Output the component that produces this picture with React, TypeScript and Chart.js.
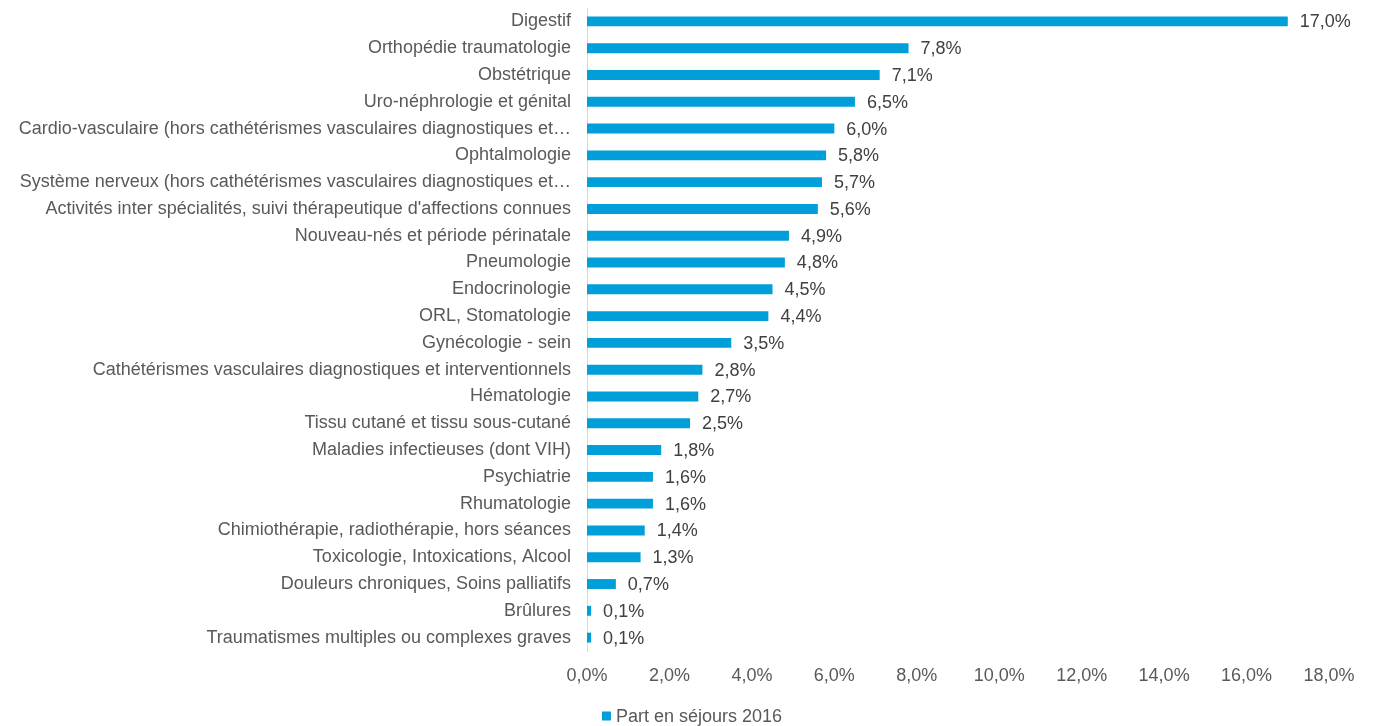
import React, { useEffect, useRef } from "react";
import { Chart, registerables } from "chart.js";

Chart.register(...registerables);

const categories = [
  "Digestif",
  "Orthopédie traumatologie",
  "Obstétrique",
  "Uro-néphrologie et génital",
  "Cardio-vasculaire (hors cathétérismes vasculaires diagnostiques et…",
  "Ophtalmologie",
  "Système nerveux (hors cathétérismes vasculaires diagnostiques et…",
  "Activités inter spécialités, suivi thérapeutique d'affections connues",
  "Nouveau-nés et période périnatale",
  "Pneumologie",
  "Endocrinologie",
  "ORL, Stomatologie",
  "Gynécologie - sein",
  "Cathétérismes vasculaires diagnostiques et interventionnels",
  "Hématologie",
  "Tissu cutané et tissu sous-cutané",
  "Maladies infectieuses (dont VIH)",
  "Psychiatrie",
  "Rhumatologie",
  "Chimiothérapie, radiothérapie, hors séances",
  "Toxicologie, Intoxications, Alcool",
  "Douleurs chroniques, Soins palliatifs",
  "Brûlures",
  "Traumatismes multiples ou complexes graves",
];

const values = [
  17.0, 7.8, 7.1, 6.5, 6.0, 5.8, 5.7, 5.6, 4.9, 4.8, 4.5, 4.4, 3.5, 2.8, 2.7,
  2.5, 1.8, 1.6, 1.6, 1.4, 1.3, 0.7, 0.1, 0.1,
];

const seriesLabel = "Part en séjours 2016";
const xMin = 0;
const xMax = 18;
const xStep = 2;

const FONT = "'Liberation Sans', Arial, sans-serif";
const BAR_COLOR = "#009FDA";

const fmt = (v: number) => v.toFixed(1).replace(".", ",") + "%";

const dataLabels = {
  id: "dataLabels",
  afterDatasetsDraw(chart: any) {
    const ctx = chart.ctx;
    const meta = chart.getDatasetMeta(0);
    ctx.save();
    ctx.font = `18px ${FONT}`;
    ctx.fillStyle = "#404040";
    ctx.textAlign = "left";
    ctx.textBaseline = "middle";
    meta.data.forEach((bar: any, i: number) => {
      ctx.fillText(fmt(values[i]), bar.x + 12, bar.y + 1);
    });
    ctx.restore();
  },
};

const bottomLegend = {
  id: "bottomLegend",
  afterDraw(chart: any) {
    const ctx = chart.ctx;
    const ds = chart.data.datasets[0];
    ctx.save();
    ctx.font = `18px ${FONT}`;
    const tw = ctx.measureText(ds.label).width;
    const box = 9;
    const gap = 5;
    const total = box + gap + tw;
    const cx = 692;
    const cy = 716;
    const x0 = cx - total / 2;
    ctx.fillStyle = ds.backgroundColor;
    ctx.fillRect(x0, cy - box / 2, box, box);
    ctx.fillStyle = "#595959";
    ctx.textAlign = "left";
    ctx.textBaseline = "middle";
    ctx.fillText(ds.label, x0 + box + gap, cy + 1);
    ctx.restore();
  },
};

export default function App() {
  const ref = useRef<HTMLCanvasElement | null>(null);
  useEffect(() => {
    if (!ref.current) return;
    const chart = new Chart(ref.current, {
      type: "bar",
      data: {
        labels: categories,
        datasets: [
          {
            label: seriesLabel,
            data: values,
            backgroundColor: BAR_COLOR,
            borderWidth: 0,
            categoryPercentage: 1,
            barPercentage: 0.37,
          },
        ],
      },
      options: {
        indexAxis: "y",
        animation: false,
        responsive: false,
        maintainAspectRatio: false,
        layout: { padding: { top: 8, right: 44, left: 0, bottom: 39 } },
        scales: {
          x: {
            min: xMin,
            max: xMax,
            grid: { display: false, drawTicks: false },
            border: { display: false },
            ticks: {
              stepSize: xStep,
              color: "#595959",
              font: { family: FONT, size: 18 },
              padding: 14,
              callback: (v: any) => fmt(Number(v)),
            },
            afterFit: (scale: any) => {
              scale.paddingLeft = 0;
              scale.paddingRight = 0;
              scale.height = 36;
            },
          },
          y: {
            grid: { display: false, drawTicks: false },
            border: { display: true, color: "#D9D9D9", width: 1 },
            ticks: {
              color: "#595959",
              font: { family: FONT, size: 18 },
              padding: 16,
              autoSkip: false,
            },
            afterFit: (scale: any) => {
              scale.width = 587;
              scale.paddingTop = 0;
              scale.paddingBottom = 0;
            },
          },
        },
        plugins: {
          legend: { display: false },
          tooltip: { enabled: false },
        },
      },
      plugins: [dataLabels, bottomLegend],
    });
    return () => chart.destroy();
  }, []);
  return (
    <div style={{ position: "fixed", left: 0, top: 0, width: 1373, height: 726, background: "#fff" }}>
      <canvas ref={ref} width={1373} height={726} style={{ display: "block" }} />
    </div>
  );
}
